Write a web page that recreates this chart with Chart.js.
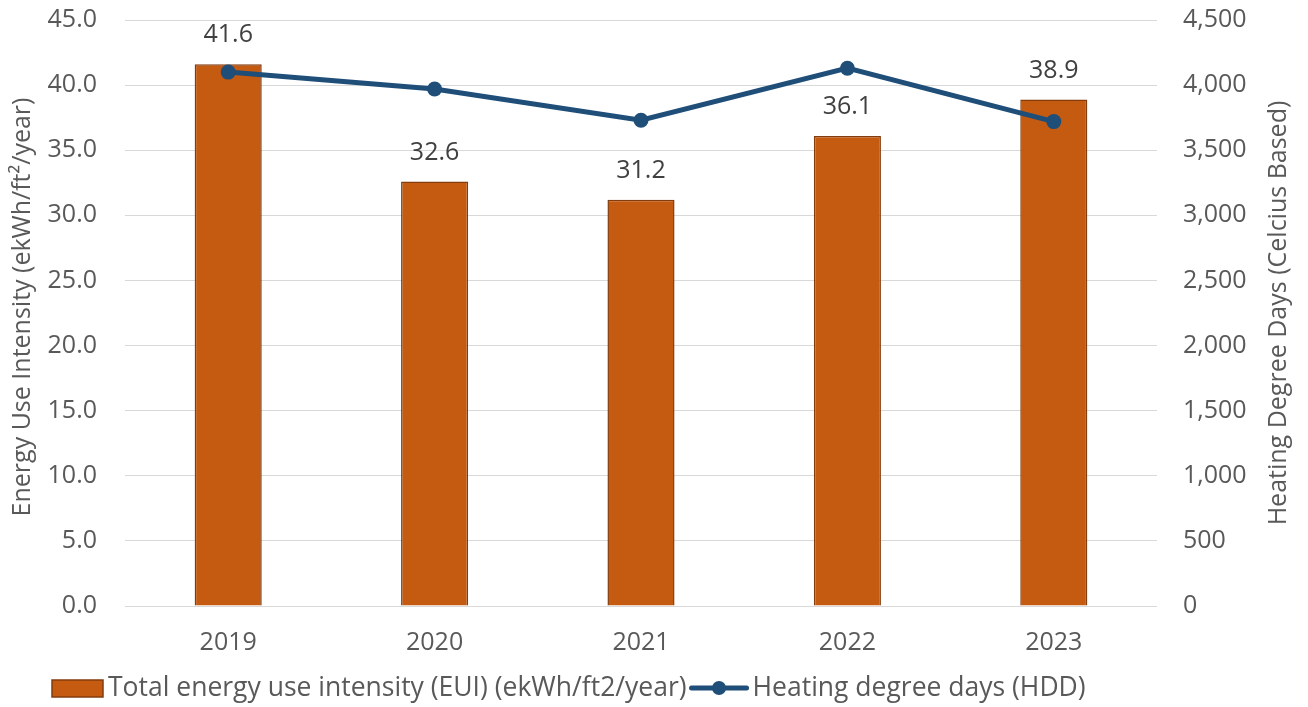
<!DOCTYPE html>
<html>
<head>
<meta charset="utf-8">
<script src="https://cdn.jsdelivr.net/npm/chart.js@4.4.1/dist/chart.umd.min.js"></script>
<style>
  html, body { margin: 0; padding: 0; background: #fff; }
  canvas { display: block; }
</style>
</head>
<body>
<canvas id="chart" width="1308" height="707"></canvas>
<script>
// data
var years = ['2019', '2020', '2021', '2022', '2023'];
var eui = [41.6, 32.6, 31.2, 36.1, 38.9];
var hdd = [4100, 3970, 3730, 4130, 3720];

var euiLabel = 'Total energy use intensity (EUI) (ekWh/ft2/year)';
var hddLabel = 'Heating degree days (HDD)';
var leftTitle = 'Energy Use Intensity (ekWh/ft\u00B2/year)';
var rightTitle = 'Heating Degree Days (Celcius Based)';

var FONT = "'Open Sans', sans-serif";
var barFill = '#C55A11';
var barEdge = '#843C0C';
var lineCol = '#1F4E79';
var grey = '#595959';

// bar values, axis titles and the legend drawn by hand
var extras = {
    id: 'extras',
    afterDatasetsDraw: function (chart) {
        var ctx = chart.ctx;
        var meta = chart.getDatasetMeta(1);
        ctx.save();
        ctx.font = '25px ' + FONT;
        ctx.fillStyle = '#404040';
        ctx.textAlign = 'center';
        ctx.textBaseline = 'middle';
        meta.data.forEach(function (bar, i) {
            ctx.fillText(eui[i].toFixed(1), bar.x, bar.y - 29);
        });
        ctx.restore();
    },
    afterDraw: function (chart) {
        var ctx = chart.ctx;
        var area = chart.chartArea;
        var midY = (area.top + area.bottom) / 2;
        ctx.save();
        ctx.font = '25px ' + FONT;
        ctx.fillStyle = grey;
        ctx.textAlign = 'center';
        ctx.textBaseline = 'middle';
        // left title
        ctx.save();
        ctx.translate(23, midY - 6);
        ctx.rotate(-Math.PI / 2);
        ctx.fillText(leftTitle, 0, 0);
        ctx.restore();
        // right title, reads upward too
        ctx.save();
        ctx.translate(1279, midY);
        ctx.rotate(-Math.PI / 2);
        ctx.fillText(rightTitle, 0, 0);
        ctx.restore();

        // legend
        ctx.font = '26.5px ' + FONT;
        var ly = 688;
        var x = 52;
        ctx.fillStyle = barFill;
        ctx.strokeStyle = barEdge;
        ctx.lineWidth = 1.5;
        ctx.fillRect(x, ly - 8, 51, 17);
        ctx.strokeRect(x, ly - 8, 51, 17);
        x += 56;
        ctx.fillStyle = grey;
        ctx.textAlign = 'left';
        ctx.fillText(euiLabel, x, ly);
        x += ctx.measureText(euiLabel).width + 5;
        ctx.strokeStyle = lineCol;
        ctx.lineWidth = 5;
        ctx.lineCap = 'round';
        ctx.beginPath();
        ctx.moveTo(x, ly);
        ctx.lineTo(x + 55, ly);
        ctx.stroke();
        ctx.fillStyle = lineCol;
        ctx.beginPath();
        ctx.arc(x + 27.5, ly, 7, 0, Math.PI * 2);
        ctx.fill();
        x += 61;
        ctx.fillStyle = grey;
        ctx.fillText(hddLabel, x, ly);
        ctx.restore();
    }
};

new Chart(document.getElementById('chart'), {
    data: {
        labels: years,
        datasets: [{
            type: 'line',
            label: hddLabel,
            data: hdd,
            yAxisID: 'y2',
            borderColor: lineCol,
            backgroundColor: lineCol,
            borderWidth: 5,
            pointRadius: 7.5,
            pointBackgroundColor: lineCol,
            pointBorderWidth: 0,
            tension: 0,
            order: 0
        }, {
            type: 'bar',
            label: euiLabel,
            data: eui,
            yAxisID: 'y',
            backgroundColor: barFill,
            borderColor: barEdge,
            borderWidth: 1.5,
            barPercentage: 0.325,
            categoryPercentage: 1,
            order: 1
        }]
    },
    options: {
        responsive: false,
        animation: false,
        devicePixelRatio: 1,
        layout: { padding: { top: 20, bottom: 50, left: 0, right: 0 } },
        plugins: {
            legend: { display: false },
            tooltip: { enabled: false }
        },
        scales: {
            x: {
                grid: { display: false, drawTicks: false },
                border: { display: false },
                ticks: { color: grey, font: { family: FONT, size: 25 }, padding: 22 },
                afterFit: function (s) { s.height = 51; }
            },
            y: {
                position: 'left',
                min: 0,
                max: 45,
                grid: { color: '#D9D9D9', lineWidth: 1, drawTicks: true, tickLength: 25, tickColor: 'rgba(0,0,0,0)' },
                border: { display: false },
                ticks: {
                    stepSize: 5,
                    color: grey,
                    padding: 3,
                    font: { family: FONT, size: 25 },
                    callback: function (v) { return v.toFixed(1); }
                },
                afterFit: function (s) { s.width = 125; }
            },
            y2: {
                position: 'right',
                min: 0,
                max: 4500,
                grid: { display: false, drawTicks: true, tickLength: 23 },
                border: { display: false },
                ticks: {
                    stepSize: 500,
                    color: grey,
                    padding: 3,
                    font: { family: FONT, size: 25 },
                    callback: function (v) { return v.toLocaleString('en-US'); }
                },
                afterFit: function (s) { s.width = 151; }
            }
        }
    },
    plugins: [extras]
});
</script>
</body>
</html>
